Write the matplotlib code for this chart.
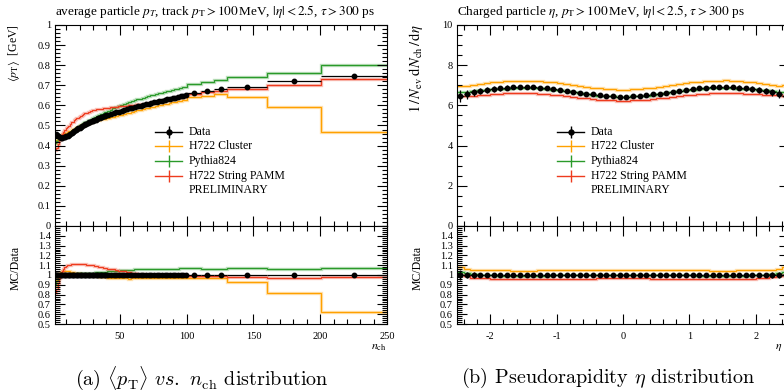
import numpy as np
import matplotlib
matplotlib.use("Agg")
import matplotlib.pyplot as plt
from matplotlib.lines import Line2D
from matplotlib.ticker import MultipleLocator, FixedLocator, FormatStrFormatter

plt.rcParams['font.family'] = ['Liberation Serif', 'DejaVu Serif']
plt.rcParams['mathtext.fontset'] = 'stix'

# ---------------------------------------------------------------- data
# <pT> versus charged multiplicity
nch_edges = np.concatenate([np.arange(1.5, 41, 1.0), np.arange(42.5, 101, 2.0),
                            [110.5, 120.5, 130.5, 160.5, 200.5, 250.0]])

pt_data = [0.458, 0.452, 0.446, 0.442, 0.440, 0.440, 0.441, 0.443, 0.446, 0.450,
           0.454, 0.459, 0.464, 0.468, 0.473, 0.477, 0.482, 0.486, 0.490, 0.494,
           0.498, 0.502, 0.505, 0.509, 0.512, 0.515, 0.518, 0.521, 0.524, 0.527,
           0.529, 0.532, 0.535, 0.537, 0.540, 0.542, 0.545, 0.547, 0.550,
           0.553, 0.557, 0.561, 0.565, 0.569, 0.573, 0.577, 0.581, 0.585, 0.589,
           0.592, 0.596, 0.599, 0.603, 0.606, 0.609, 0.612, 0.615, 0.618, 0.621,
           0.624, 0.627, 0.630, 0.633, 0.636, 0.639, 0.642, 0.645, 0.647, 0.650,
           0.662, 0.672, 0.680, 0.692, 0.721, 0.746]
pt_err = [0.012, 0.008, 0.006, 0.005, 0.004, 0.004, 0.004, 0.004, 0.004, 0.004,
          0.004, 0.004, 0.004, 0.004, 0.004, 0.004, 0.004, 0.004, 0.004, 0.004,
          0.004, 0.004, 0.004, 0.004, 0.004, 0.004, 0.004, 0.004, 0.004, 0.004,
          0.004, 0.004, 0.004, 0.004, 0.004, 0.004, 0.004, 0.004, 0.004,
          0.004, 0.004, 0.004, 0.004, 0.004, 0.004, 0.004, 0.004, 0.004, 0.004,
          0.004, 0.004, 0.004, 0.004, 0.004, 0.005, 0.005, 0.005, 0.005, 0.005,
          0.005, 0.005, 0.005, 0.005, 0.005, 0.005, 0.005, 0.005, 0.005, 0.005,
          0.005, 0.006, 0.006, 0.007, 0.008, 0.010]
pt_cluster = [0.412, 0.429, 0.442, 0.451, 0.455, 0.457, 0.459, 0.461, 0.464, 0.467,
              0.471, 0.474, 0.478, 0.481, 0.485, 0.488, 0.492, 0.495, 0.498, 0.500,
              0.503, 0.505, 0.507, 0.510, 0.512, 0.514, 0.516, 0.518, 0.520, 0.522,
              0.523, 0.525, 0.527, 0.528, 0.530, 0.531, 0.533, 0.534, 0.536,
              0.538, 0.541, 0.544, 0.547, 0.550, 0.554, 0.557, 0.561, 0.564, 0.568,
              0.571, 0.575, 0.578, 0.582, 0.585, 0.588, 0.591, 0.594, 0.597, 0.600,
              0.603, 0.606, 0.609, 0.612, 0.615, 0.618, 0.621, 0.623, 0.626, 0.628,
              0.640, 0.649, 0.657, 0.640, 0.592, 0.466]
pt_pythia = [0.412, 0.425, 0.433, 0.438, 0.440, 0.442, 0.445, 0.447, 0.451, 0.455,
             0.460, 0.465, 0.470, 0.475, 0.480, 0.484, 0.489, 0.494, 0.498, 0.502,
             0.506, 0.511, 0.515, 0.519, 0.522, 0.526, 0.529, 0.533, 0.537, 0.540,
             0.543, 0.546, 0.550, 0.553, 0.557, 0.559, 0.563, 0.566, 0.569,
             0.573, 0.579, 0.585, 0.590, 0.595, 0.601, 0.606, 0.611, 0.617, 0.621,
             0.626, 0.631, 0.634, 0.639, 0.642, 0.646, 0.650, 0.653, 0.657, 0.660,
             0.664, 0.667, 0.671, 0.674, 0.678, 0.681, 0.684, 0.688, 0.690, 0.694,
             0.706, 0.716, 0.725, 0.740, 0.763, 0.803]
pt_pamm = [0.376, 0.389, 0.410, 0.429, 0.444, 0.458, 0.467, 0.478, 0.486, 0.495,
           0.499, 0.505, 0.515, 0.519, 0.525, 0.530, 0.535, 0.539, 0.544, 0.548,
           0.553, 0.557, 0.560, 0.561, 0.564, 0.566, 0.570, 0.572, 0.576, 0.577,
           0.578, 0.580, 0.581, 0.582, 0.583, 0.584, 0.586, 0.587, 0.588,
           0.589, 0.591, 0.593, 0.594, 0.595, 0.597, 0.598, 0.599, 0.600, 0.602,
           0.603, 0.605, 0.606, 0.608, 0.609, 0.611, 0.613, 0.615, 0.617, 0.620,
           0.623, 0.625, 0.628, 0.631, 0.634, 0.637, 0.639, 0.642, 0.644, 0.646,
           0.655, 0.665, 0.673, 0.680, 0.700, 0.731]

# charged-particle pseudorapidity density
eta_edges = np.linspace(-2.5, 2.5, 51)
eta_data = [6.46, 6.56, 6.66, 6.73, 6.78, 6.82, 6.86, 6.89, 6.92, 6.93,
            6.92, 6.91, 6.89, 6.86, 6.82, 6.78, 6.73, 6.68, 6.63, 6.59,
            6.55, 6.51, 6.48, 6.46, 6.44, 6.44, 6.46, 6.48, 6.51, 6.55,
            6.59, 6.63, 6.68, 6.73, 6.78, 6.82, 6.86, 6.89, 6.91, 6.92,
            6.93, 6.92, 6.89, 6.86, 6.82, 6.78, 6.73, 6.66, 6.58, 6.48]
eta_err = [0.30, 0.22, 0.18, 0.16, 0.14, 0.13, 0.12, 0.11, 0.10, 0.09,
           0.08, 0.07, 0.07, 0.06, 0.06, 0.06, 0.05, 0.05, 0.05, 0.05,
           0.05, 0.05, 0.05, 0.05, 0.05, 0.05, 0.05, 0.05, 0.05, 0.05,
           0.05, 0.05, 0.05, 0.05, 0.06, 0.06, 0.06, 0.07, 0.07, 0.08,
           0.09, 0.10, 0.11, 0.12, 0.13, 0.14, 0.16, 0.18, 0.22, 0.30]
eta_cluster = [6.98, 6.95, 7.03, 7.07, 7.12, 7.15, 7.18, 7.21, 7.23, 7.23,
               7.22, 7.22, 7.21, 7.18, 7.15, 7.11, 7.07, 7.01, 6.97, 6.93,
               6.89, 6.86, 6.82, 6.80, 6.79, 6.79, 6.80, 6.82, 6.86, 6.89,
               6.93, 6.97, 7.02, 7.07, 7.11, 7.15, 7.18, 7.21, 7.22, 7.22,
               7.24, 7.23, 7.21, 7.18, 7.15, 7.12, 7.07, 7.03, 6.97, 7.00]
eta_pythia = [6.66, 6.69, 6.72, 6.75, 6.77, 6.80, 6.82, 6.84, 6.86, 6.87,
              6.87, 6.86, 6.85, 6.82, 6.79, 6.75, 6.71, 6.66, 6.61, 6.57,
              6.53, 6.49, 6.47, 6.45, 6.43, 6.43, 6.45, 6.47, 6.49, 6.53,
              6.57, 6.61, 6.66, 6.71, 6.75, 6.79, 6.82, 6.85, 6.86, 6.87,
              6.87, 6.86, 6.84, 6.82, 6.80, 6.77, 6.75, 6.72, 6.69, 6.66]
eta_pamm = [6.46, 6.49, 6.49, 6.53, 6.54, 6.56, 6.59, 6.60, 6.62, 6.63,
            6.62, 6.61, 6.59, 6.57, 6.53, 6.50, 6.46, 6.42, 6.38, 6.35,
            6.31, 6.28, 6.26, 6.25, 6.23, 6.23, 6.25, 6.26, 6.28, 6.31,
            6.35, 6.38, 6.42, 6.46, 6.50, 6.53, 6.56, 6.58, 6.60, 6.61,
            6.62, 6.61, 6.60, 6.59, 6.57, 6.55, 6.54, 6.52, 6.52, 6.47]

labels = ["Data", "H722 Cluster", "Pythia824", "H722 String PAMM"]
colors = ["black", "#ffa100", "#2a9a2a", "#ee3b1e"]

# ---------------------------------------------------------------- layout
W, H = 784, 391
fig = plt.figure(figsize=(W / 100, H / 100), dpi=100)


def px_box(x0, y0, x1, y1):
    return [x0 / W, 1 - y1 / H, (x1 - x0) / W, (y1 - y0) / H]


def fx(x):
    return x / W


def fy(y):
    return 1 - y / H


TICK_FS = 7.5


def style(ax):
    ax.tick_params(which='both', direction='in', top=True, right=True,
                   labelsize=TICK_FS, width=0.8, pad=3)
    ax.tick_params(which='major', length=7)
    ax.tick_params(which='minor', length=3.5)
    for s in ax.spines.values():
        s.set_linewidth(0.8)


def draw_panel(x0, x1, edges, data, err, mcs, xlim, ymain, ymaj, ymin, xmaj, xmin,
               xtick_fmt, title, ylabel, ylabel_fs, xlabel, xlabel_x):
    main = fig.add_axes(px_box(x0, 25, x1, 226))
    ratio = fig.add_axes(px_box(x0, 226, x1, 324))
    edges = np.asarray(edges)
    centers = 0.5 * (edges[:-1] + edges[1:])
    half = 0.5 * np.diff(edges)
    data = np.asarray(data)
    err = np.asarray(err)

    for vals, col in zip(mcs, colors[1:]):
        vals = np.asarray(vals)
        for ax, v in ((main, vals), (ratio, vals / data)):
            ax.stairs(v, edges, baseline=None, color=col, lw=2.4, alpha=0.3)
            ax.stairs(v, edges, baseline=None, color=col, lw=0.9)

    main.errorbar(centers, data, yerr=err, xerr=half, fmt='o', color='k',
                  ms=3.2, lw=0.9, capsize=0, zorder=5)
    ratio.errorbar(centers, data / data, yerr=err / data, xerr=half, fmt='o',
                   color='k', ms=3.2, lw=0.9, capsize=0, zorder=5)

    for ax in (main, ratio):
        ax.set_xlim(*xlim)
        ax.xaxis.set_major_locator(MultipleLocator(xmaj))
        ax.xaxis.set_minor_locator(MultipleLocator(xmin))
        style(ax)
    main.set_ylim(*ymain)
    main.yaxis.set_major_locator(MultipleLocator(ymaj))
    main.yaxis.set_minor_locator(MultipleLocator(ymin))
    main.yaxis.set_major_formatter(FormatStrFormatter('%g'))
    main.tick_params(labelbottom=False)

    ratio.set_ylim(0.5, 1.5)
    ratio.yaxis.set_major_locator(FixedLocator(np.round(np.arange(0.5, 1.45, 0.1), 1)))
    ratio.yaxis.set_minor_locator(MultipleLocator(0.02))
    ratio.yaxis.set_major_formatter(FormatStrFormatter('%g'))
    ratio.xaxis.set_major_formatter(FormatStrFormatter(xtick_fmt))
    ratio.tick_params(axis='x', pad=6)

    fig.text(fx(x0), fy(12), title, fontsize=9.5, ha='left', va='center')
    fig.text(fx(x0 - 41), fy(24), ylabel, fontsize=ylabel_fs, rotation=90,
             ha='center', va='top')
    fig.text(fx(x0 - 39), fy(246), "MC/Data", fontsize=8.5, rotation=90,
             ha='center', va='top')
    fig.text(fx(xlabel_x), fy(347), xlabel, fontsize=8.5, ha='right', va='center')

    # legend
    rows = [132, 146.5, 161, 175.5]
    hx0, hx1 = x0 + 100, x0 + 127
    for (lab, col), yy in zip(zip(labels, colors), rows):
        fig.add_artist(Line2D([fx(hx0), fx(hx1)], [fy(yy), fy(yy)],
                              transform=fig.transFigure, color=col, lw=1.0))
        fig.add_artist(Line2D([fx((hx0 + hx1) / 2)], [fy(yy)], marker='|', ms=9,
                              mew=1.0, color=col, transform=fig.transFigure))
        if lab == "Data":
            fig.add_artist(Line2D([fx((hx0 + hx1) / 2)], [fy(yy)], marker='o',
                                  ms=3.5, color=col, transform=fig.transFigure))
        fig.text(fx(hx1 + 7), fy(yy), lab, fontsize=8.5, ha='left', va='center')
    fig.text(fx(hx1 + 7), fy(190), "PRELIMINARY", fontsize=8.5, ha='left',
             va='center')
    return main, ratio


draw_panel(55, 387, nch_edges, pt_data, pt_err, [pt_cluster, pt_pythia, pt_pamm],
           (1.5, 250), (0, 1), 0.1, 0.02, 50, 10, '%g',
           r'average particle $p_T$, track $p_\mathrm{T} > 100\,$MeV, $|\eta| < 2.5$, $\tau > 300$ ps',
           r'$\langle p_\mathrm{T}\rangle$  [GeV]', 8.5, r'$n_\mathrm{ch}$', 387)

draw_panel(457, 789, eta_edges, eta_data, eta_err, [eta_cluster, eta_pythia, eta_pamm],
           (-2.5, 2.5), (0, 10), 2, 0.5, 1, 0.2, '%g',
           r'Charged particle $\eta$, $p_\mathrm{T} > 100\,$MeV, $|\eta| < 2.5$, $\tau > 300$ ps',
           r'$1\,/\,N_\mathrm{ev}\;\mathrm{d}N_\mathrm{ch}\,/\,\mathrm{d}\eta$', 10.5,
           r'$\eta$', 782)

# sub-figure captions
fig.text(fx(202), fy(378), r'(a) $\langle p_\mathrm{T}\rangle$ $vs.$ $n_\mathrm{ch}$ distribution',
         family='cmr10', math_fontfamily='cm', fontsize=14.5, ha='center', va='center')
fig.text(fx(608), fy(378), r'(b) Pseudorapidity $\eta$ distribution',
         family='cmr10', math_fontfamily='cm', fontsize=14.5, ha='center', va='center')

fig.savefig("out.png", dpi=100)
